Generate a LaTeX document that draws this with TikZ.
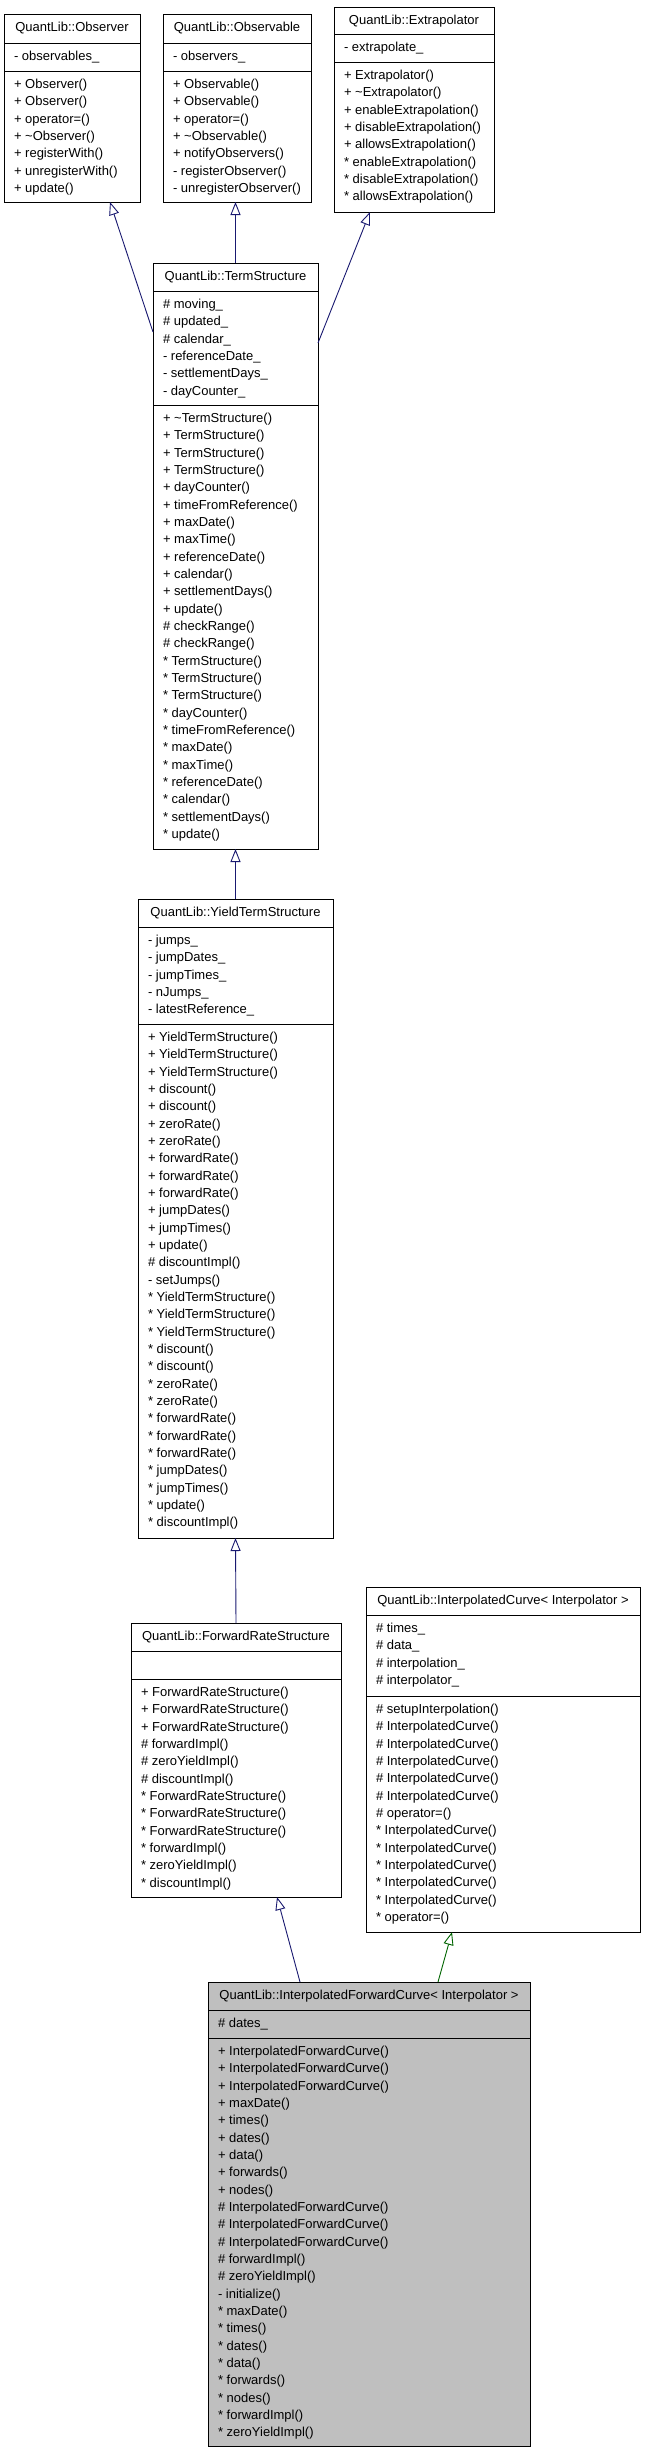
\documentclass[tikz,border=0pt]{standalone}
\usepackage{fontspec}
\setmainfont{Liberation Sans}
\usetikzlibrary{arrows.meta,calc}
\definecolor{midblue}{HTML}{191970}
\definecolor{dgreen}{HTML}{006400}
\definecolor{ifcgray}{HTML}{BFBFBF}
\tikzset{
  clsbox/.style={draw=black, line width=0.9pt, anchor=north west, inner sep=0pt, outer sep=0pt},
  sepline/.style={draw=black, line width=0.9pt},
  txt/.style={font=\fontsize{13}{15}\selectfont, inner sep=0pt, outer sep=0pt},
  inhblue/.style={draw=midblue, line width=0.9pt, -{Triangle[length=13pt, width=10pt, fill=white]}},
  inhgreen/.style={draw=dgreen, line width=0.9pt, -{Triangle[length=13pt, width=10pt, fill=white]}}
}
\newcommand\ucls[9]{%
  \pgfmathsetmacro\uw{#3-#2}\pgfmathsetmacro\uh{#7-#4}%
  \node[clsbox, fill=#8, minimum width=\uw pt, minimum height=\uh pt] (#1) at (#2,#4) {};
  \draw[sepline] (#2,#5) -- (#3,#5);
  \draw[sepline] (#2,#6) -- (#3,#6);
  \node[txt, anchor=base] (#1-title) at ({(#2+#3)/2},{#4+17.5}) {#9};
}
\newcommand\ulines[4]{%
  \foreach \ltxt [count=\li from 0] in {#4} {
    \node[txt, anchor=base west] (#1-\li) at ({#2+10},{#3+17.5+17.33*\li}) {\ltxt};
  }
}
\begin{document}
\begin{tikzpicture}[x=1pt, y={(0pt,-1pt)}]
\useasboundingbox (0,0) rectangle (645,2453);

% Observer
\ucls{obs}{4}{140}{14}{43}{71}{202}{white}{QuantLib::Observer}
\ulines{obsa}{4}{43}{- observables\_}
\ulines{obsm}{4}{71}{+ Observer(), + Observer(), + operator=(), + \textasciitilde Observer(), + registerWith(), + unregisterWith(), + update()}

% Observable
\ucls{ovb}{163}{311}{14}{43}{71}{202}{white}{QuantLib::Observable}
\ulines{ovba}{163}{43}{- observers\_}
\ulines{ovbm}{163}{71}{+ Observable(), + Observable(), + operator=(), + \textasciitilde Observable(), + notifyObservers(), - registerObserver(), - unregisterObserver()}

% Extrapolator
\ucls{ext}{334}{494}{7}{34}{62}{212}{white}{QuantLib::Extrapolator}
\ulines{exta}{334}{34}{- extrapolate\_}
\ulines{extm}{334}{62}{+ Extrapolator(), + \textasciitilde Extrapolator(), + enableExtrapolation(), + disableExtrapolation(), + allowsExtrapolation(), * enableExtrapolation(), * disableExtrapolation(), * allowsExtrapolation()}

% TermStructure
\ucls{ts}{153}{318}{263}{291}{405}{849}{white}{QuantLib::TermStructure}
\ulines{tsa}{153}{291}{\# moving\_, \# updated\_, \# calendar\_, - referenceDate\_, - settlementDays\_, - dayCounter\_}
\ulines{tsm}{153}{405}{+ \textasciitilde TermStructure(), + TermStructure(), + TermStructure(), + TermStructure(), + dayCounter(), + timeFromReference(), + maxDate(), + maxTime(), + referenceDate(), + calendar(), + settlementDays(), + update(), \# checkRange(), \# checkRange(), * TermStructure(), * TermStructure(), * TermStructure(), * dayCounter(), * timeFromReference(), * maxDate(), * maxTime(), * referenceDate(), * calendar(), * settlementDays(), * update()}

% YieldTermStructure
\ucls{yts}{138}{333}{899}{927}{1024}{1538}{white}{QuantLib::YieldTermStructure}
\ulines{ytsa}{138}{927}{- jumps\_, - jumpDates\_, - jumpTimes\_, - nJumps\_, - latestReference\_}
\ulines{ytsm}{138}{1024}{+ YieldTermStructure(), + YieldTermStructure(), + YieldTermStructure(), + discount(), + discount(), + zeroRate(), + zeroRate(), + forwardRate(), + forwardRate(), + forwardRate(), + jumpDates(), + jumpTimes(), + update(), \# discountImpl(), - setJumps(), * YieldTermStructure(), * YieldTermStructure(), * YieldTermStructure(), * discount(), * discount(), * zeroRate(), * zeroRate(), * forwardRate(), * forwardRate(), * forwardRate(), * jumpDates(), * jumpTimes(), * update(), * discountImpl()}

% ForwardRateStructure
\ucls{frs}{131}{341}{1623}{1651}{1679}{1897}{white}{QuantLib::ForwardRateStructure}
\ulines{frsm}{131}{1679}{+ ForwardRateStructure(), + ForwardRateStructure(), + ForwardRateStructure(), \# forwardImpl(), \# zeroYieldImpl(), \# discountImpl(), * ForwardRateStructure(), * ForwardRateStructure(), * ForwardRateStructure(), * forwardImpl(), * zeroYieldImpl(), * discountImpl()}

% InterpolatedCurve
\ucls{ic}{366}{640}{1587}{1615}{1696}{1932}{white}{QuantLib::InterpolatedCurve< Interpolator >}
\ulines{ica}{366}{1615}{\# times\_, \# data\_, \# interpolation\_, \# interpolator\_}
\ulines{icm}{366}{1696}{\# setupInterpolation(), \# InterpolatedCurve(), \# InterpolatedCurve(), \# InterpolatedCurve(), \# InterpolatedCurve(), \# InterpolatedCurve(), \# operator=(), * InterpolatedCurve(), * InterpolatedCurve(), * InterpolatedCurve(), * InterpolatedCurve(), * InterpolatedCurve(), * operator=()}

% InterpolatedForwardCurve
\ucls{ifc}{208}{530}{1982}{2010}{2038}{2446}{ifcgray}{QuantLib::InterpolatedForwardCurve< Interpolator >}
\ulines{ifca}{208}{2010}{\# dates\_}
\ulines{ifcm}{208}{2038}{+ InterpolatedForwardCurve(), + InterpolatedForwardCurve(), + InterpolatedForwardCurve(), + maxDate(), + times(), + dates(), + data(), + forwards(), + nodes(), \# InterpolatedForwardCurve(), \# InterpolatedForwardCurve(), \# InterpolatedForwardCurve(), \# forwardImpl(), \# zeroYieldImpl(), - initialize(), * maxDate(), * times(), * dates(), * data(), * forwards(), * nodes(), * forwardImpl(), * zeroYieldImpl()}

% connector end points
\coordinate (tsL) at ($(ts.north west)+(0,69)$);
\coordinate (obsB) at ($(obs.south west)+(106,0)$);
\coordinate (tsR) at ($(ts.north east)+(0,80)$);
\coordinate (extB) at ($(ext.south west)+(36,0)$);
\coordinate (ifcT1) at ($(ifc.north west)+(92,0)$);
\coordinate (frsB) at ($(frs.south west)+(146,0)$);
\coordinate (ifcT2) at ($(ifc.north west)+(230,0)$);
\coordinate (icB) at ($(ic.south west)+(86,0)$);

\draw[inhblue] (tsL) -- (obsB);
\draw[inhblue] (ts.north) -- (ts.north |- ovb.south);
\draw[inhblue] (tsR) -- (extB);
\draw[inhblue] (yts.north) -- (ts.south);
\draw[inhblue] (frs.north) -- (yts.south);
\draw[inhblue] (ifcT1) -- (frsB);
\draw[inhgreen] (ifcT2) -- (icB);
\end{tikzpicture}
\end{document}
